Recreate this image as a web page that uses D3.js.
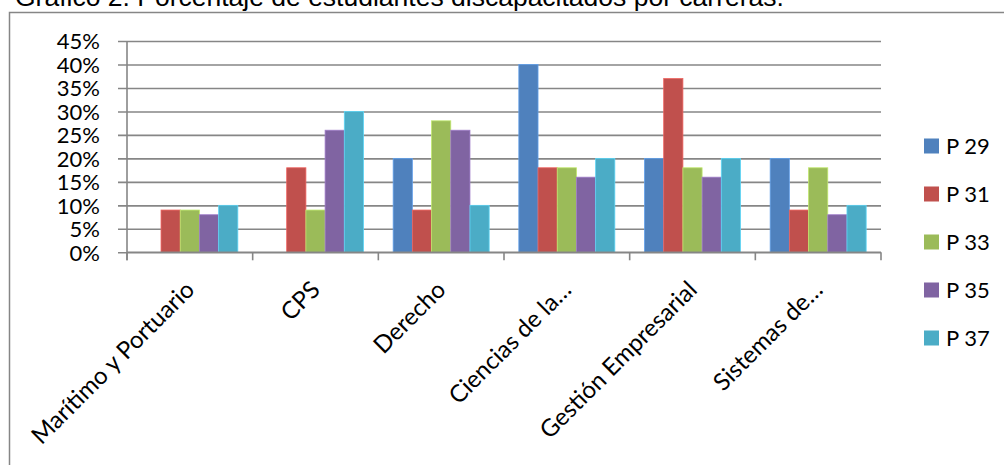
<!DOCTYPE html>
<html>
<head>
<meta charset="utf-8">
<script src="https://cdn.jsdelivr.net/npm/d3@7"></script>
<style>
  html, body { margin: 0; padding: 0; background: #fff; overflow: hidden; }
  .tick-label { font-family: Lato, sans-serif; font-size: 22px; fill: #000; }
  .cat-label { font-family: Lato, sans-serif; font-size: 24px; fill: #000; }
  .legend-text { font-family: Lato, sans-serif; font-size: 22px; fill: #000; }
</style>
</head>
<body>
<div id="chart"></div>
<script>
const WIDTH = 1004;
const HEIGHT = 465;

const categories = ['Marítimo y Portuario', 'CPS', 'Derecho', 'Ciencias de la…', 'Gestión Empresarial', 'Sistemas de…'];
const seriesNames = ['P 29', 'P 31', 'P 33', 'P 35', 'P 37'];
const seriesColors = ['#4F81BD', '#C0504D', '#9BBB59', '#8064A2', '#4BACC6'];
const p29 = [0, 0, 20, 40, 20, 20];
const p31 = [9, 18, 9, 18, 37, 9];
const p33 = [9, 9, 28, 18, 18, 18];
const p35 = [8, 26, 26, 16, 16, 8];
const p37 = [10, 30, 10, 20, 20, 10];
const yTicks = [0, 5, 10, 15, 20, 25, 30, 35, 40, 45];

const seriesValues = [p29, p31, p33, p35, p37];
const data = categories.map((c, i) => ({
    category: c,
    values: seriesNames.map((s, j) => ({ series: s, value: seriesValues[j][i] }))
}));

const plot = { left: 127, right: 881, top: 41, bottom: 252.3 };

const x0 = d3.scaleBand()
    .domain(categories)
    .range([plot.left, plot.right])
    .paddingInner(0.236)
    .paddingOuter(0.118);

const x1 = d3.scaleBand()
    .domain(seriesNames)
    .range([0, x0.bandwidth()]);

const y = d3.scaleLinear()
    .domain([0, 45])
    .range([plot.bottom, plot.top]);

const color = d3.scaleOrdinal().domain(seriesNames).range(seriesColors);

const svg = d3.select('#chart')
    .append('svg')
    .attr('width', WIDTH)
    .attr('height', HEIGHT);

// title, partly cut off at the top like the source
svg.append('text')
    .attr('x', 15)
    .attr('y', 6)
    .style('font-family', '"Liberation Sans", Arial, sans-serif')
    .style('font-size', '26.5px')
    .text('Gráfico 2. Porcentaje de estudiantes discapacitados por carreras.');

// outer frame
svg.append('rect')
    .attr('x', 9.5)
    .attr('y', 12.5)
    .attr('width', WIDTH)
    .attr('height', HEIGHT)
    .attr('fill', 'none')
    .attr('stroke', '#868686')
    .attr('stroke-width', 1.5);

// gridlines + y labels
const yAxis = d3.axisLeft(y)
    .tickValues(yTicks)
    .tickSize(-(plot.right - plot.left + 9))
    .tickPadding(18)
    .tickFormat(d => d + '%');

const gy = svg.append('g')
    .attr('transform', `translate(${plot.left - 9},0)`)
    .call(yAxis);
gy.select('.domain').remove();
gy.selectAll('.tick line')
    .attr('stroke', '#868686')
    .attr('stroke-width', 1.6);
gy.selectAll('.tick text')
    .attr('class', 'tick-label')
    .attr('dy', '0.35em')
    .style('font-family', 'Lato, sans-serif')
    .style('font-size', '22px');

// bars
const groups = svg.append('g')
    .selectAll('g')
    .data(data)
    .enter()
    .append('g')
    .attr('transform', d => `translate(${x0(d.category)},0)`);

groups.selectAll('rect')
    .data(d => d.values.filter(v => v.value > 0))
    .enter()
    .append('rect')
    .attr('x', d => x1(d.series))
    .attr('y', d => y(d.value))
    .attr('width', x1.bandwidth())
    .attr('height', d => y(0) - y(d.value))
    .attr('fill', d => color(d.series))
    .attr('stroke', d => d3.color(color(d.series)).brighter(0.6))
    .attr('stroke-width', 0.8);

// vertical axis line
svg.append('line')
    .attr('x1', plot.left)
    .attr('x2', plot.left)
    .attr('y1', y(45))
    .attr('y2', y(0) + 8)
    .attr('stroke', '#868686')
    .attr('stroke-width', 1.6);

// horizontal axis with category boundary ticks
const boundaries = d3.range(categories.length + 1)
    .map(i => plot.left + i * x0.step());

svg.append('line')
    .attr('x1', plot.left)
    .attr('x2', plot.right)
    .attr('y1', y(0))
    .attr('y2', y(0))
    .attr('stroke', '#868686')
    .attr('stroke-width', 1.6);

svg.append('g')
    .selectAll('line')
    .data(boundaries)
    .enter()
    .append('line')
    .attr('x1', d => d)
    .attr('x2', d => d)
    .attr('y1', y(0))
    .attr('y2', y(0) + 8)
    .attr('stroke', '#868686')
    .attr('stroke-width', 1.6);

// rotated category labels
svg.append('g')
    .selectAll('text')
    .data(categories)
    .enter()
    .append('text')
    .attr('class', 'cat-label')
    .attr('text-anchor', 'end')
    .attr('transform', d => `translate(${x0(d) + x0.bandwidth() / 2 + 6},${y(0) + 39}) rotate(-45)`)
    .text(d => d);

// legend
const legend = svg.append('g')
    .attr('transform', 'translate(924,146)');

seriesNames.forEach((s, i) => {
    const item = legend.append('g')
        .attr('transform', `translate(0,${i * 48})`);
    item.append('rect')
        .attr('x', 0)
        .attr('y', -7.5)
        .attr('width', 15)
        .attr('height', 15)
        .attr('fill', color(s));
    item.append('text')
        .attr('class', 'legend-text')
        .attr('x', 22)
        .attr('y', 0)
        .attr('dy', '0.35em')
        .text(s);
});
</script>
</body>
</html>
